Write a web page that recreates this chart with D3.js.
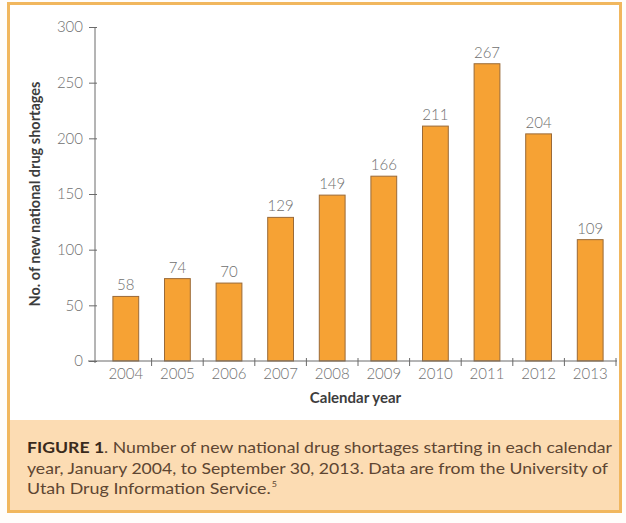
<!DOCTYPE html>
<html>
<head>
<meta charset="utf-8">
<script src="https://cdn.jsdelivr.net/npm/d3@7"></script>
<style>
  html, body { margin: 0; padding: 0; background: #fffdfb; }
  svg { display: block; }
</style>
</head>
<body>
<svg id="chart" width="626" height="523"></svg>
<script>
// Data: new national drug shortages per calendar year
const years = ["2004", "2005", "2006", "2007", "2008", "2009", "2010", "2011", "2012", "2013"];
const shortages = [58, 74, 70, 129, 149, 166, 211, 267, 204, 109];
const yTickValues = [0, 50, 100, 150, 200, 250, 300];
const yTitle = "No. of new national drug shortages";
const xTitle = "Calendar year";
const captionLines = [
  [{ t: "FIGURE 1", b: true }, { t: ". Number of new national drug shortages starting in each calendar" }],
  [{ t: "year, January 2004, to September 30, 2013. Data are from the University of" }],
  [{ t: "Utah Drug Information Service." }, { t: "5", sup: true }]
];

const svg = d3.select("#chart");
const font = "Lato, 'Open Sans', sans-serif";

// Frame and caption panel
svg.append("rect").attr("x", 8.5).attr("y", 3.5).attr("width", 612).attr("height", 508)
  .attr("fill", "#ffffff").attr("stroke", "#f1b75e").attr("stroke-width", 3);
svg.append("rect").attr("x", 10).attr("y", 420).attr("width", 609).attr("height", 90)
  .attr("fill", "#fcdcb3");

// Scales
const x = d3.scaleBand().domain(years).range([100, 616]).paddingInner(0.5).paddingOuter(0.25);
const y = d3.scaleLinear().domain([0, 300]).range([361, 27]);
const axisX = 95;

// Bars
svg.append("g").selectAll("rect").data(years).join("rect")
  .attr("x", d => x(d))
  .attr("y", (d, i) => y(shortages[i]))
  .attr("width", x.bandwidth())
  .attr("height", (d, i) => y(0) - y(shortages[i]))
  .attr("fill", "#f6a234")
  .attr("stroke", "#9a6a38")
  .attr("stroke-width", 1);

// Value labels
svg.append("g").selectAll("text").data(years).join("text")
  .attr("x", d => x(d) + x.bandwidth() / 2)
  .attr("y", (d, i) => y(shortages[i]) - 6)
  .attr("text-anchor", "middle")
  .attr("font-family", font).attr("font-size", 15).attr("font-weight", 300).attr("fill", "#6f6f6f")
  .text((d, i) => shortages[i]);

// Y axis
const yAxis = svg.append("g").attr("transform", `translate(${axisX},0)`)
  .call(d3.axisLeft(y).tickValues(yTickValues).tickSizeInner(6).tickSizeOuter(0).tickPadding(6));
yAxis.select(".domain").attr("d", `M0,${y(300)}V${y(0) + 2}`).attr("stroke", "#6a6a6a");
yAxis.selectAll(".tick line").attr("x2", -6).attr("x1", 2).attr("stroke", "#6a6a6a");
yAxis.selectAll(".tick text").attr("font-family", font).attr("font-size", 15).attr("font-weight", 300).attr("fill", "#707070");

// X axis: labels centred on bands, tick marks on band boundaries
const xAxis = svg.append("g").attr("transform", `translate(0,${y(0)})`)
  .call(d3.axisBottom(x).tickSize(0).tickPadding(7));
xAxis.select(".domain").attr("d", "M88,0H617").attr("stroke", "#6a6a6a");
xAxis.selectAll(".tick text").attr("font-family", font).attr("font-size", 15).attr("font-weight", 300).attr("fill", "#707070");
const boundaries = years.map(d => x(d) - x.step() * x.paddingInner() / 2).concat([x(years[years.length - 1]) + x.bandwidth() + x.step() * x.paddingInner() / 2]);
svg.append("g").attr("transform", `translate(0,${y(0)})`).selectAll("line").data(boundaries.slice(1)).join("line")
  .attr("x1", d => d).attr("x2", d => d).attr("y1", -3).attr("y2", 5)
  .attr("stroke", "#6a6a6a");

// Axis titles
svg.append("text")
  .attr("transform", `translate(40,${(y(0) + y(300)) / 2}) rotate(-90)`)
  .attr("text-anchor", "middle")
  .attr("font-family", font).attr("font-size", 14.5).attr("font-weight", 700).attr("fill", "#3d3d3d")
  .text(yTitle);
svg.append("text")
  .attr("x", (axisX + 616) / 2).attr("y", 403)
  .attr("text-anchor", "middle")
  .attr("font-family", font).attr("font-size", 15).attr("font-weight", 700).attr("fill", "#3d3d3d")
  .text(xTitle);

// Caption
const capWidths = [585, 581, 250];
captionLines.forEach((line, i) => {
  const t = svg.append("text")
    .attr("x", 27).attr("y", 453 + i * 20.5)
    .attr("font-family", font).attr("font-size", 16).attr("fill", "#5e4632")
    .attr("textLength", capWidths[i]).attr("lengthAdjust", "spacingAndGlyphs");
  line.forEach(seg => {
    const s = t.append("tspan").text(seg.t);
    if (seg.b) s.attr("font-weight", 700).attr("fill", "#3a2a1c");
    if (seg.sup) s.attr("font-size", 8).attr("dy", -7).attr("dx", 1);
  });
});
</script>
</body>
</html>
